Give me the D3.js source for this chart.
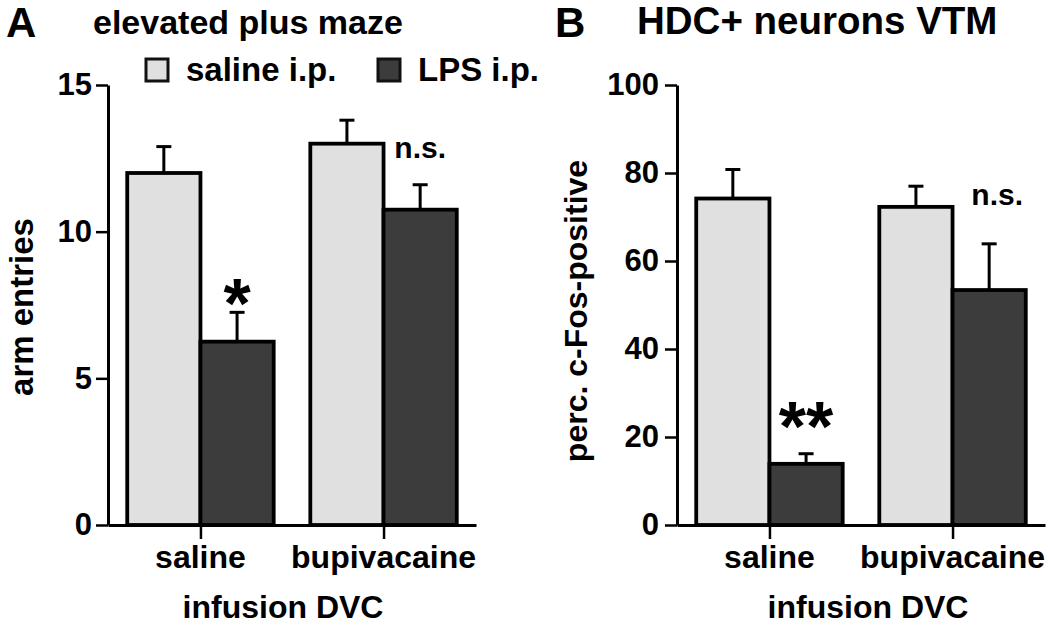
<!DOCTYPE html>
<html><head><meta charset="utf-8">
<script src="https://cdn.jsdelivr.net/npm/d3@7"></script>
<style>
body{margin:0;background:#fff;}
svg text{font-family:"Liberation Sans",Arial,sans-serif;font-weight:bold;fill:#000;}
</style></head>
<body><svg id="c" width="1050" height="628"></svg>
<script>
// ---- data ----
const categories = ["saline", "bupivacaine"];
const seriesNames = ["saline i.p.", "LPS i.p."];
const epmSaline = [12.0, 13.0];
const epmSalineErr = [0.9, 0.8];
const epmLPS = [6.25, 10.75];
const epmLPSErr = [1.0, 0.85];
const hdcSaline = [74.2, 72.3];
const hdcSalineErr = [6.6, 4.7];
const hdcLPS = [13.9, 53.4];
const hdcLPSErr = [2.3, 10.5];
const epmTicks = [0, 5, 10, 15];
const hdcTicks = [0, 20, 40, 60, 80, 100];
const epmSig = ["", "n.s."];
const hdcSig = ["", "n.s."];
const epmStar = ["*", ""];
const hdcStar = ["**", ""];

const colors = ["#e0e0e0", "#3c3c3c"];
const svg = d3.select("#c");

function panel(o) {
  const g = svg.append("g");
  const x = d3.scaleBand().domain(categories).range([o.x0, o.x1]).paddingInner(0.2).paddingOuter(0.105);
  const xs = d3.scaleBand().domain(seriesNames).range([0, x.bandwidth()]);
  const y = d3.scaleLinear().domain([0, o.ymax]).range([525, 85]);
  const series = [
    {name: seriesNames[0], vals: o.s, errs: o.se},
    {name: seriesNames[1], vals: o.l, errs: o.le}
  ];
  series.forEach((s, si) => {
    categories.forEach((c, ci) => {
      const bx = x(c) + xs(s.name);
      const cx = bx + xs.bandwidth() / 2;
      const top = y(s.vals[ci]);
      const etop = y(s.vals[ci] + s.errs[ci]);
      g.append("line").attr("x1", cx).attr("x2", cx).attr("y1", top).attr("y2", etop)
        .attr("stroke", "#000").attr("stroke-width", 3);
      g.append("line").attr("x1", cx - 7.5).attr("x2", cx + 7.5).attr("y1", etop).attr("y2", etop)
        .attr("stroke", "#000").attr("stroke-width", 3);
      g.append("rect").attr("x", bx).attr("y", top).attr("width", xs.bandwidth())
        .attr("height", y(0) - top).attr("fill", colors[si])
        .attr("stroke", "#000").attr("stroke-width", 3.8);
    });
  });
  // y axis
  const ya = g.append("g").attr("transform", `translate(${o.x0},0)`)
    .call(d3.axisLeft(y).tickValues(o.ticks).tickSize(12).tickPadding(o.tp).tickSizeOuter(0));
  ya.select(".domain").attr("stroke-width", 3);
  ya.selectAll(".tick line").attr("stroke-width", 2.5);
  ya.selectAll(".tick text").style("font-size", "31px").attr("fill", "#000");
  // x axis
  const xa = g.append("g").attr("transform", `translate(0,525)`)
    .call(d3.axisBottom(d3.scaleLinear().domain([o.x0, o.x1]).range([o.x0, o.x1]))
      .tickValues(categories.map(c => x(c) + x.bandwidth() / 2)).tickSize(14).tickFormat("").tickSizeOuter(0));
  xa.select(".domain").attr("stroke-width", 3);
  xa.selectAll(".tick line").attr("stroke-width", 2.5);
  categories.forEach(c => {
    g.append("text").attr("x", x(c) + x.bandwidth() / 2).attr("y", 568)
      .attr("text-anchor", "middle").style("font-size", "32px").text(c);
  });
  g.append("text").attr("x", o.xtx).attr("y", 618).attr("text-anchor", "middle")
    .style("font-size", "32px").text("infusion DVC");
  g.append("text").attr("transform", `translate(${o.ytx},${o.yty}) rotate(-90)`)
    .attr("text-anchor", "middle").style("font-size", o.yfs).text(o.ytitle);
  // annotations (over LPS bars)
  categories.forEach((c, ci) => {
    const cx = x(c) + xs(seriesNames[1]) + xs.bandwidth() / 2;
    if (o.star[ci]) {
      g.append("text").attr("x", cx).attr("y", y(o.l[ci] + o.le[ci]) + o.starDy)
        .attr("text-anchor", "middle").style("font-size", "70px").text(o.star[ci]);
    }
    if (o.sig[ci]) {
      g.append("text").attr("x", cx + o.nsDx).attr("y", o.nsY)
        .attr("text-anchor", "middle").style("font-size", "30px").text(o.sig[ci]);
    }
  });
  // panel letter and title
  g.append("text").attr("x", o.lx).attr("y", 37).style("font-size", "42px").text(o.letter);
  g.append("text").attr("x", o.tx).attr("y", 34).style("font-size", o.tfs).text(o.title);
  return g;
}

panel({x0: 108, x1: 476, ymax: 15, ticks: epmTicks, tp: 4,
  s: epmSaline, se: epmSalineErr, l: epmLPS, le: epmLPSErr,
  star: epmStar, sig: epmSig, starDy: 16, nsDx: 0, nsY: 158,
  xtx: 283, ytx: 33, yty: 307, ytitle: "arm entries", yfs: "33px",
  letter: "A", lx: 6, title: "elevated plus maze", tx: 93, tfs: "34px"});

panel({x0: 677, x1: 1045, ymax: 100, ticks: hdcTicks, tp: 6,
  s: hdcSaline, se: hdcSalineErr, l: hdcLPS, le: hdcLPSErr,
  star: hdcStar, sig: hdcSig, starDy: -3, nsDx: 8, nsY: 205,
  xtx: 868, ytx: 587, yty: 311, ytitle: "perc. c-Fos-positive", yfs: "32px",
  letter: "B", lx: 555, title: "HDC+ neurons VTM", tx: 637, tfs: "38.5px"});

// legend
const leg = svg.append("g");
const legX = [146, 378];
seriesNames.forEach((n, i) => {
  leg.append("rect").attr("x", legX[i]).attr("y", 59).attr("width", 22).attr("height", 22)
    .attr("fill", colors[i]).attr("stroke", "#111").attr("stroke-width", 3);
  leg.append("text").attr("x", legX[i] + 40).attr("y", 81).style("font-size", "33px").text(n);
});
</script></body></html>
